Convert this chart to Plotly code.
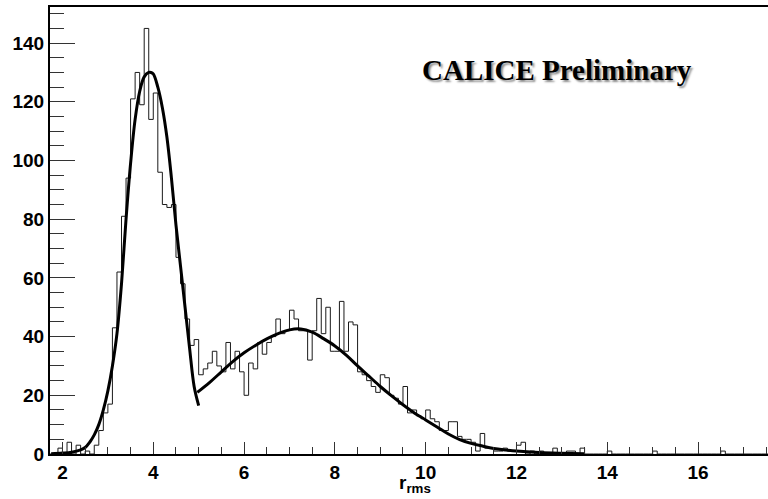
import plotly.graph_objects as go

# Histogram of r_rms: 0.1-wide bins starting at 1.7
bin_start = 1.7
bin_width = 0.1
counts = [
    0, 0, 2, 0, 4, 0, 3, 0, 1, 0,            # 1.7 - 2.6
    3, 8, 14, 17, 43, 62, 81, 94, 121, 130,  # 2.7 - 3.6
    119, 145, 114, 123, 96, 85, 84, 85, 67, 58,  # 3.7 - 4.6
    46, 37, 39, 27, 29, 31, 35, 30, 28, 38,  # 4.7 - 5.6
    29, 35, 28, 20, 31, 29, 38, 34, 38, 40,  # 5.7 - 6.6
    46, 41, 42, 49, 46, 42, 42, 32, 42, 53,  # 6.7 - 7.6
    41, 50, 35, 35, 52, 35, 45, 44, 28, 27,  # 7.7 - 8.6
    25, 23, 21, 27, 26, 20, 19, 17, 23, 14,  # 8.7 - 9.6
    15, 13, 12, 15, 12, 11, 8, 8, 11, 11,    # 9.7 - 10.6
    6, 5, 5, 4, 1, 7, 2, 2, 1, 1,            # 10.7 - 11.6
    2, 1, 1, 3, 4, 0, 1, 0, 1, 0,            # 11.7 - 12.6
    0, 2, 0, 0, 1, 1, 0, 2, 0, 0,            # 12.7 - 13.6
    0, 0, 0, 1, 0, 0, 0, 0, 0, 0,            # 13.7 - 14.6
    0, 0, 0, 1, 0, 0, 0, 0, 0, 0,            # 14.7 - 15.6
    0, 0, 0, 0, 0, 0, 0, 0, 1, 0,            # 15.7 - 16.6
    0, 0, 0, 0, 0, 0, 0, 0, 0, 0,            # 16.7 - 17.6
]

# Fitted curve, first peak (ends at r = 5)
fit1_x = [1.75, 2.0, 2.2, 2.4, 2.5, 2.6, 2.7, 2.8, 2.9, 3.0, 3.1, 3.2, 3.3,
          3.4, 3.5, 3.6, 3.7, 3.8, 3.9, 3.95, 4.0, 4.1, 4.2, 4.3, 4.4, 4.5,
          4.6, 4.7, 4.8, 4.9, 5.0]
fit1_y = [0.1, 0.3, 0.6, 1.4, 2.2, 4.0, 6.5, 10.0, 15.0, 21.5, 30.0, 41.0, 58.0,
          80.0, 99.0, 114.0, 123.5, 128.5, 130.0, 130.0, 129.5, 125.0, 118.0,
          108.0, 94.0, 78.0, 64.0, 50.0, 36.0, 23.0, 16.5]

# Fitted curve, second (broad) component
fit2_x = [4.97, 5.25, 5.5, 5.75, 6.0, 6.25, 6.5, 6.75, 7.0, 7.25, 7.5, 7.75,
          8.0, 8.25, 8.5, 8.75, 9.0, 9.25, 9.5, 9.75, 10.0, 10.25, 10.5,
          10.75, 11.0, 11.25, 11.5, 11.75, 12.0, 12.5, 13.0, 13.5]
fit2_y = [21.0, 24.5, 28.0, 31.5, 34.5, 37.0, 39.2, 41.0, 42.3, 42.6, 41.5,
          39.3, 36.8, 33.7, 30.0, 26.5, 23.0, 19.8, 16.8, 14.0, 11.6, 9.2,
          6.8, 4.9, 3.6, 2.7, 1.9, 1.4, 1.0, 0.5, 0.25, 0.1]

x_range = [1.725, 17.54]
y_range = [0, 152.3]

edges = [round(bin_start + i * bin_width, 2) for i in range(len(counts) + 1)]
step_y = counts + [counts[-1]]

fig = go.Figure()
fig.add_trace(go.Scatter(
    x=edges, y=step_y, mode="lines", line_shape="hv",
    line=dict(color="#1a1a1a", width=1), hoverinfo="skip", showlegend=False,
))
for fx, fy in ((fit1_x, fit1_y), (fit2_x, fit2_y)):
    fig.add_trace(go.Scatter(
        x=fx, y=fy, mode="lines", line_shape="spline",
        line=dict(color="black", width=3), showlegend=False,
    ))

tick_font = dict(family="Liberation Sans, Arial, sans-serif", size=19,
                 color="black", weight="bold")

fig.update_xaxes(
    range=x_range, showgrid=False, zeroline=False,
    showline=True, linecolor="black", linewidth=2, mirror=True,
    tick0=0, dtick=2, ticks="inside", ticklen=12, tickwidth=1,
    tickcolor="#333", tickfont=tick_font,
    minor=dict(dtick=0.5, ticks="inside", ticklen=7, tickwidth=1, tickcolor="#333"),
)
fig.update_yaxes(
    range=y_range, showgrid=False, zeroline=False,
    showline=True, linecolor="black", linewidth=2, mirror=False,
    tick0=0, dtick=20, ticks="inside", ticklen=25, tickwidth=1,
    tickcolor="#333", tickfont=tick_font,
    minor=dict(dtick=5, ticks="inside", ticklen=14, tickwidth=1, tickcolor="#333"),
)

fig.add_annotation(
    text="<b>r<sub>rms</sub></b>", xref="paper", yref="paper",
    x=0.508, y=-0.068, xanchor="center", yanchor="middle", showarrow=False,
    font=dict(family="Liberation Sans, Arial, sans-serif", size=19, color="black"),
)
fig.add_annotation(
    text="<b>CALICE Preliminary</b>", xref="paper", yref="paper",
    x=0.515, y=0.859, xanchor="left", yanchor="middle", showarrow=False,
    font=dict(family="Liberation Serif, Times New Roman, serif", size=29,
              color="black", shadow="2px 2px 2px rgba(0,0,0,0.45)"),
)

fig.update_layout(
    width=768, height=499,
    margin=dict(l=50, r=0, t=7, b=45),
    paper_bgcolor="white", plot_bgcolor="white",
)

fig.write_html("out.html")
